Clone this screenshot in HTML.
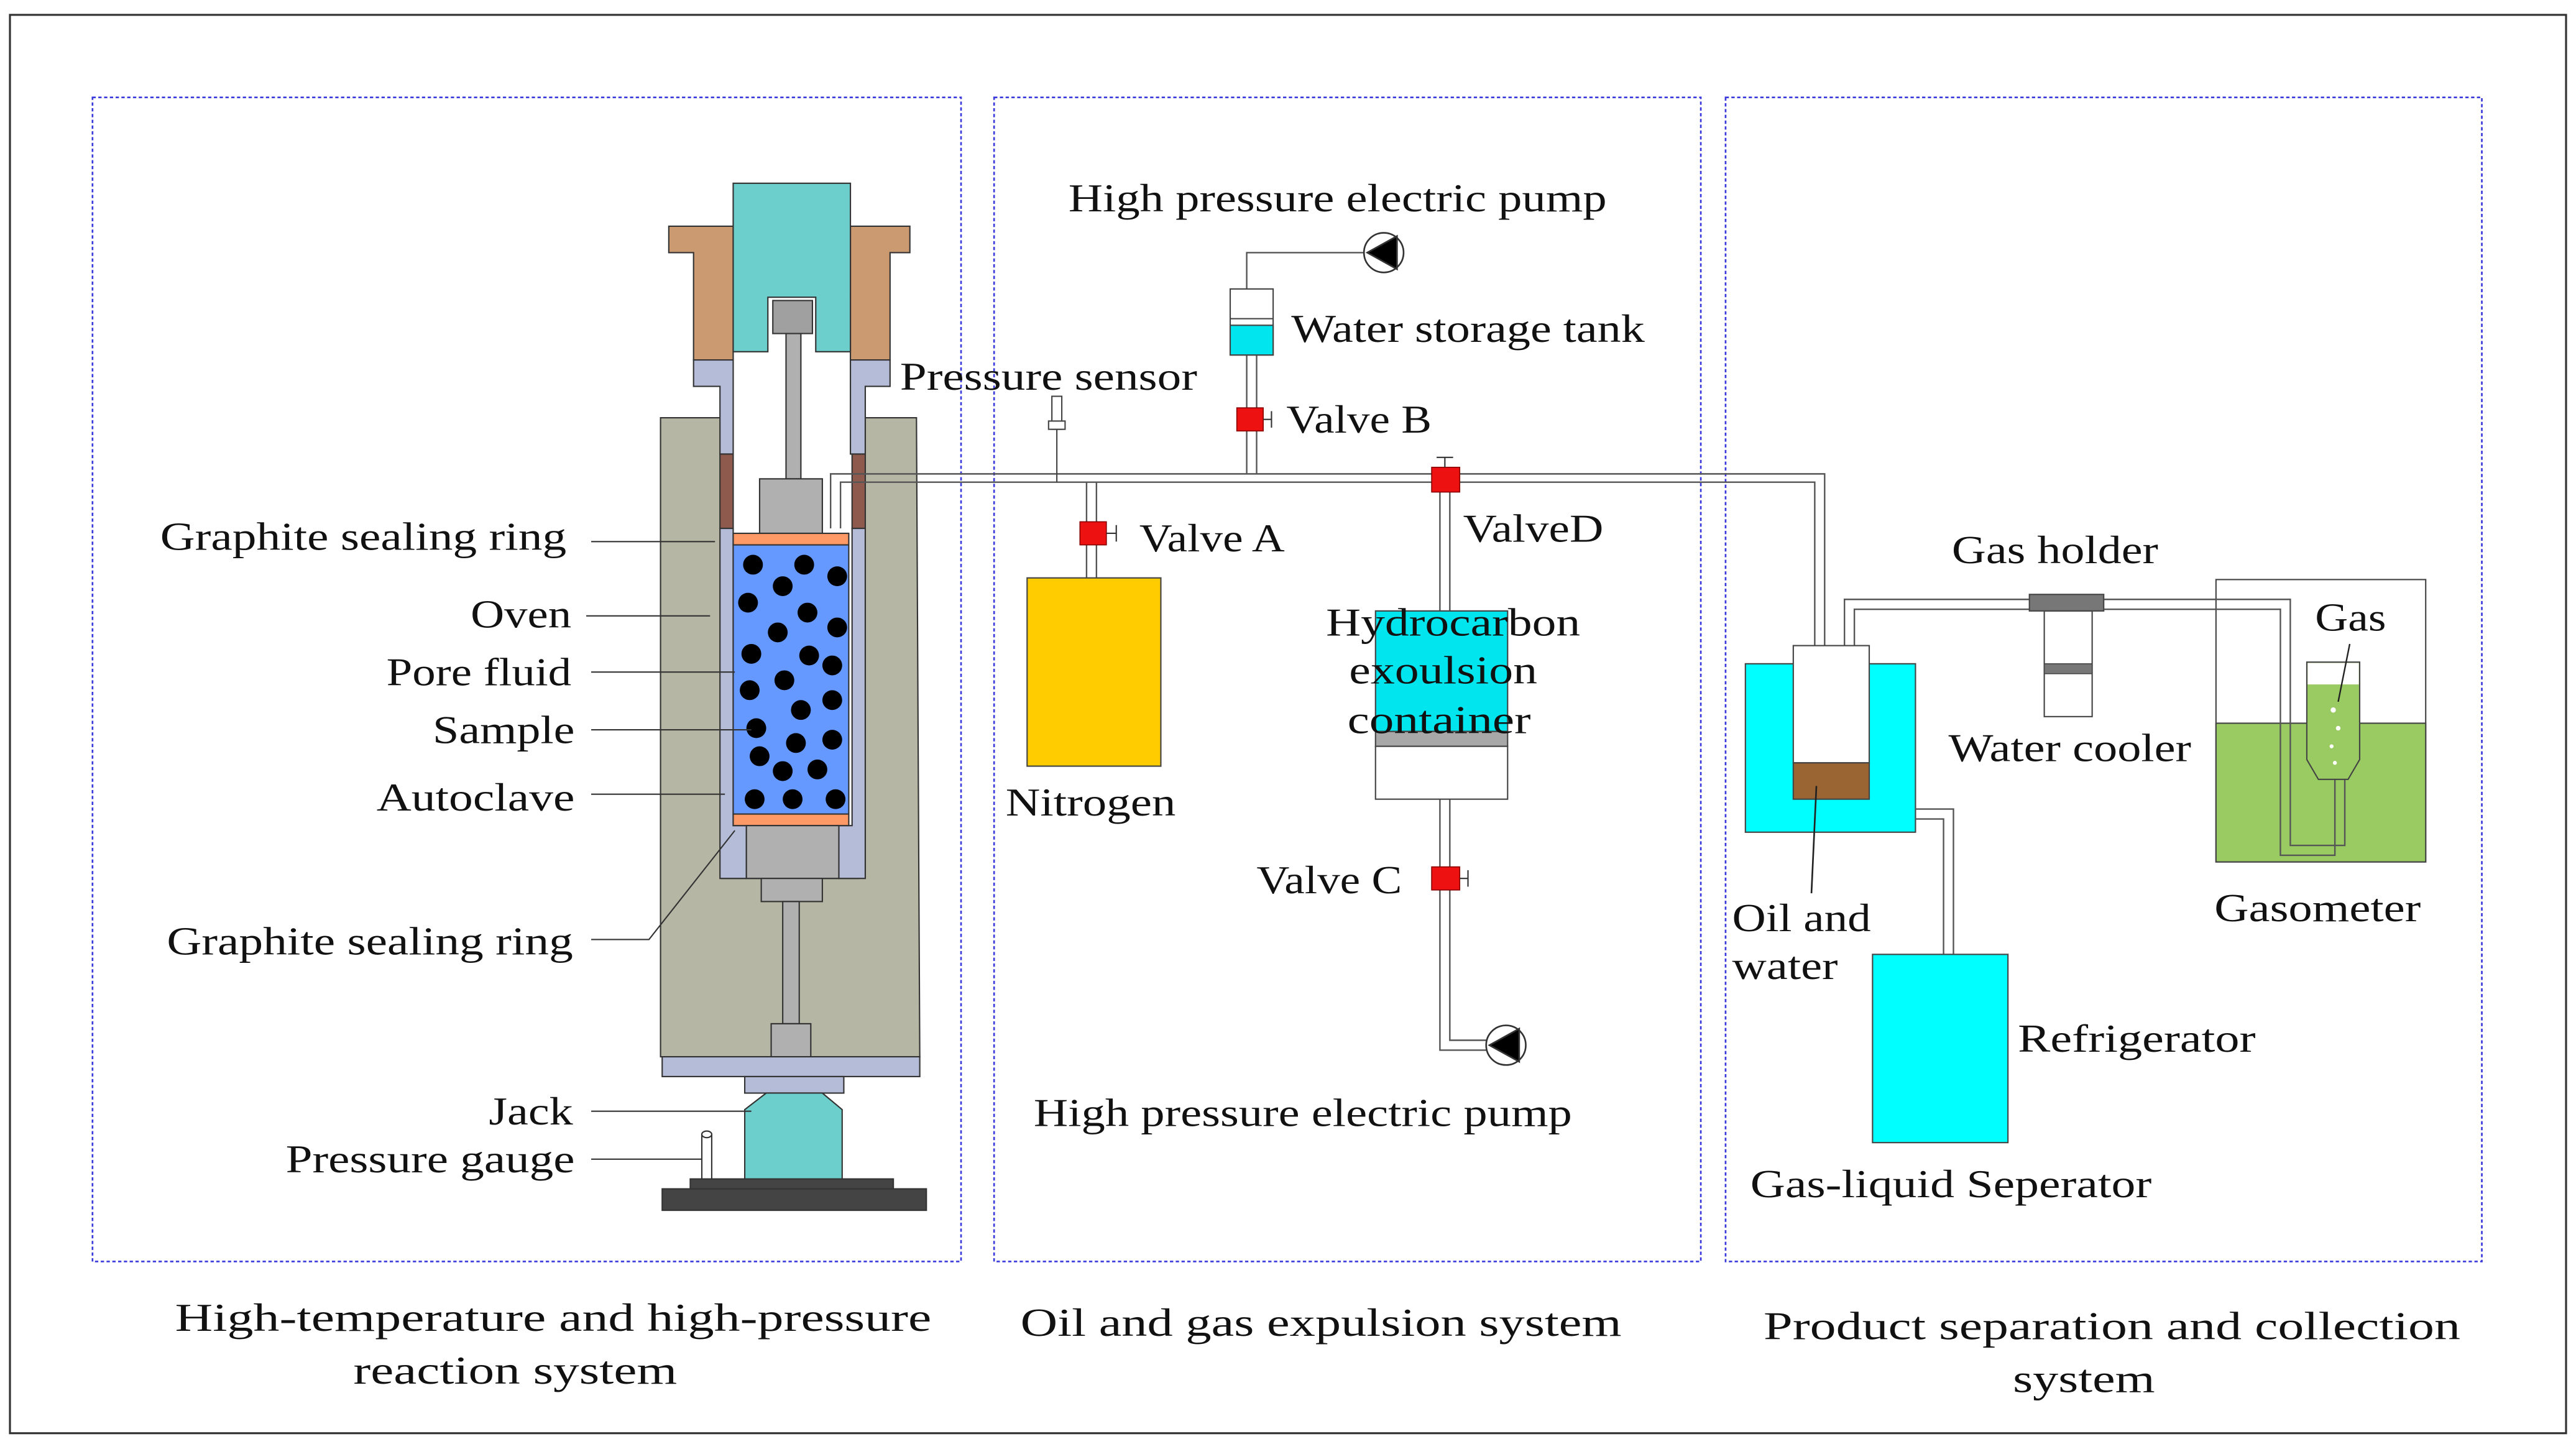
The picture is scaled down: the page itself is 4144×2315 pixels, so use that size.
<!DOCTYPE html>
<html><head><meta charset="utf-8"><style>html,body{margin:0;padding:0;background:#fff}svg{display:block}text{font-family:"Liberation Serif",serif;font-size:24px;fill:#111}</style></head><body>
<svg width="4144" height="2315" viewBox="0 0 1560 871.5" xmlns="http://www.w3.org/2000/svg">
<rect x="0" y="0" width="1560" height="871.5" fill="#fff"/>
<rect x="6" y="9" width="1548" height="859" fill="none" stroke="#333" stroke-width="1.2"/>
<g fill="none" stroke="#3a3adc" stroke-width="1" stroke-dasharray="2,1.5">
<rect x="56" y="59" width="526" height="705"/><rect x="602" y="59" width="428" height="705"/><rect x="1045" y="59" width="458" height="705"/></g>

<!-- LEFT APPARATUS -->
<g stroke="#333" stroke-width="0.8">
<path d="M400 253 H437 V532 H520 V253 H555 L557 640 H400 Z" fill="#b5b6a3"/>
<path d="M405 137 H444 V218 H420 V153 H405 Z" fill="#cc9a70"/>
<path d="M551 137 H515 V218 H539 V153 H551 Z" fill="#cc9a70"/>
<path d="M420 218 H444 V275 H436 V234 H420 Z" fill="#b4bcd8"/>
<path d="M539 218 H515 V275 H524 V234 H539 Z" fill="#b4bcd8"/>
<rect x="436" y="275" width="8" height="45" fill="#8e5a4e"/>
<rect x="516" y="275" width="8" height="45" fill="#8e5a4e"/>
<path d="M436 320 H444 V500 H452 V532 H436 Z" fill="#b4bcd8"/>
<path d="M524 320 H516 V500 H508 V532 H524 Z" fill="#b4bcd8"/>
<path d="M444 111 H515 V213 H494 V180 H465 V213 H444 Z" fill="#6ccfcc"/>
<rect x="468" y="182" width="24" height="20" fill="#a0a0a0"/>
<rect x="476" y="202" width="9" height="88" fill="#b0b0b0"/>
<rect x="460" y="290" width="38" height="33" fill="#b0b0b0"/>
<rect x="444" y="323" width="70" height="7" fill="#ff9966"/>
<rect x="444" y="330" width="70" height="163" fill="#6699ff"/>
<rect x="444" y="493" width="70" height="7" fill="#ff9966"/>
<rect x="452" y="500" width="56" height="32" fill="#b0b0b0"/>
<rect x="461" y="532" width="37" height="14" fill="#b0b0b0"/>
<rect x="474" y="546" width="10" height="74" fill="#b0b0b0"/>
<rect x="467" y="620" width="24" height="20" fill="#b0b0b0"/>
<rect x="401" y="640" width="156" height="12" fill="#b4bcd8"/>
<rect x="451" y="652" width="60" height="10" fill="#b4bcd8"/>
<path d="M451 672 L464 662 H498 L510 672 V716 H451 Z" fill="#6ccfcc"/>
<rect x="425" y="687" width="6" height="28" fill="#fff"/>
<ellipse cx="428" cy="687" rx="3" ry="2" fill="#fff"/>
<rect x="418" y="714" width="123" height="6" fill="#444"/>
<rect x="401" y="720" width="160" height="13" fill="#444"/>
</g>
<g fill="#000">
<ellipse cx="456" cy="342" rx="6" ry="6"/><ellipse cx="487" cy="342" rx="6" ry="6"/><ellipse cx="507" cy="349" rx="6" ry="6"/>
<ellipse cx="474" cy="355" rx="6" ry="6"/><ellipse cx="453" cy="365" rx="6" ry="6"/><ellipse cx="489" cy="371" rx="6" ry="6"/>
<ellipse cx="471" cy="383" rx="6" ry="6"/><ellipse cx="507" cy="380" rx="6" ry="6"/><ellipse cx="455" cy="396" rx="6" ry="6"/>
<ellipse cx="490" cy="397" rx="6" ry="6"/><ellipse cx="504" cy="403" rx="6" ry="6"/><ellipse cx="475" cy="412" rx="6" ry="6"/>
<ellipse cx="454" cy="418" rx="6" ry="6"/><ellipse cx="504" cy="424" rx="6" ry="6"/><ellipse cx="485" cy="430" rx="6" ry="6"/>
<ellipse cx="458" cy="441" rx="6" ry="6"/><ellipse cx="482" cy="450" rx="6" ry="6"/><ellipse cx="504" cy="448" rx="6" ry="6"/>
<ellipse cx="460" cy="458" rx="6" ry="6"/><ellipse cx="474" cy="467" rx="6" ry="6"/><ellipse cx="495" cy="466" rx="6" ry="6"/>
<ellipse cx="457" cy="484" rx="6" ry="6"/><ellipse cx="480" cy="484" rx="6" ry="6"/><ellipse cx="506" cy="484" rx="6" ry="6"/>
</g>
<g stroke="#333" stroke-width="0.8" fill="none">
<line x1="358" y1="328" x2="433" y2="328"/><line x1="355" y1="373" x2="430" y2="373"/>
<line x1="358" y1="407" x2="445" y2="407"/><line x1="358" y1="442" x2="455" y2="442"/>
<line x1="358" y1="481" x2="439" y2="481"/>
<polyline points="358,569 393,569 445,503"/>
<line x1="358" y1="673" x2="455" y2="673"/><line x1="358" y1="702" x2="425" y2="702"/>
</g>
<text x="97" y="333" textLength="246" lengthAdjust="spacingAndGlyphs">Graphite sealing ring</text>
<text x="285" y="380" textLength="61" lengthAdjust="spacingAndGlyphs">Oven</text>
<text x="234" y="415" textLength="112" lengthAdjust="spacingAndGlyphs">Pore fluid</text>
<text x="262" y="450" textLength="86" lengthAdjust="spacingAndGlyphs">Sample</text>
<text x="228" y="491" textLength="120" lengthAdjust="spacingAndGlyphs">Autoclave</text>
<text x="101" y="578" textLength="246" lengthAdjust="spacingAndGlyphs">Graphite sealing ring</text>
<text x="296" y="681" textLength="51" lengthAdjust="spacingAndGlyphs">Jack</text>
<text x="173" y="710" textLength="175" lengthAdjust="spacingAndGlyphs">Pressure gauge</text>

<!-- RIGHT boxes (under pipes) -->
<rect x="1057" y="402" width="103" height="102" fill="#00ffff" stroke="#444" stroke-width="0.8"/>
<rect x="1342" y="351" width="127" height="171" fill="#fff" stroke="#444" stroke-width="0.8"/>
<rect x="1342" y="438" width="127" height="84" fill="#9acb62" stroke="#444" stroke-width="0.8"/>

<!-- PIPES -->
<g stroke="#555" stroke-width="0.9" fill="none">
<polyline points="503,320 503,287 1105,287 1105,392"/>
<polyline points="509,320 509,292 1099,292 1099,392"/>
<line x1="658" y1="292" x2="658" y2="350"/><line x1="664" y1="292" x2="664" y2="350"/>
<polyline points="755,287 755,153 826,153"/><polyline points="761,287 761,215"/>
<line x1="872" y1="292" x2="872" y2="370"/><line x1="878" y1="292" x2="878" y2="370"/>
<polyline points="872,484 872,636 900,636"/><polyline points="878,484 878,630 900,630"/>
<polyline points="1117,392 1117,363 1387,363 1387,512 1420,512 1420,472"/>
<polyline points="1123,392 1123,369 1381,369 1381,518 1414,518 1414,472"/>
<polyline points="1160,490 1183,490 1183,578"/><polyline points="1160,496 1177,496 1177,578"/>
</g>
<!-- Pressure sensor -->
<g stroke="#444" stroke-width="0.8" fill="#fff"><rect x="637" y="240" width="6" height="20"/><rect x="635" y="255" width="10" height="5"/><line x1="640" y1="260" x2="640" y2="292"/></g>
<!-- Water tank -->
<rect x="745" y="175" width="26" height="40" fill="#fff" stroke="#444" stroke-width="0.8"/>
<rect x="745" y="197" width="26" height="18" fill="#00e5ee" stroke="#444" stroke-width="0.8"/>
<line x1="745" y1="193" x2="771" y2="193" stroke="#444" stroke-width="0.8"/>
<!-- pumps -->
<g stroke="#333" stroke-width="1"><circle cx="838" cy="153" r="12" fill="#fff"/><path d="M828 153 L846 143 V163 Z" fill="#000"/>
<circle cx="912" cy="633" r="12" fill="#fff"/><path d="M902 633 L920 623 V643 Z" fill="#000"/></g>
<!-- valves -->
<g fill="#ee1111" stroke="#800" stroke-width="0.6">
<rect x="749" y="247" width="16" height="14"/><rect x="654" y="316" width="16" height="14"/>
<rect x="867" y="283" width="17" height="15"/><rect x="867" y="525" width="17" height="14"/></g>
<g stroke="#333" stroke-width="0.8"><line x1="765" y1="254" x2="770" y2="254"/><line x1="770" y1="249" x2="770" y2="259"/>
<line x1="670" y1="323" x2="676" y2="323"/><line x1="676" y1="318" x2="676" y2="328"/>
<line x1="875" y1="283" x2="875" y2="277"/><line x1="870" y1="277" x2="880" y2="277"/>
<line x1="884" y1="532" x2="889" y2="532"/><line x1="889" y1="527" x2="889" y2="537"/></g>
<!-- nitrogen -->
<rect x="622" y="350" width="81" height="114" fill="#ffcc00" stroke="#444" stroke-width="0.8"/>
<!-- container -->
<rect x="833" y="370" width="80" height="73" fill="#00e5ee" stroke="#444" stroke-width="0.8"/>
<rect x="833" y="443" width="80" height="9" fill="#a8a8a8" stroke="#444" stroke-width="0.8"/>
<rect x="833" y="452" width="80" height="32" fill="#fff" stroke="#444" stroke-width="0.8"/>

<!-- RIGHT -->
<rect x="1086" y="391" width="46" height="71" fill="#fff" stroke="#444" stroke-width="0.8"/>
<rect x="1086" y="462" width="46" height="22" fill="#9a6433" stroke="#444" stroke-width="0.8"/>
<line x1="1100" y1="476" x2="1097" y2="541" stroke="#222" stroke-width="1"/>
<rect x="1238" y="370" width="29" height="64" fill="#fff" stroke="#444" stroke-width="0.8"/>
<rect x="1238" y="402" width="29" height="6" fill="#777" stroke="#444" stroke-width="0.6"/>
<rect x="1229" y="360" width="45" height="10" fill="#777" stroke="#444" stroke-width="0.8"/>
<path d="M1397 401 H1429 V460 L1422 472 H1404 L1397 460 Z" fill="#9acb62" stroke="#444" stroke-width="0.8"/>
<rect x="1397.5" y="401.5" width="31" height="13" fill="#fff"/>
<line x1="1423" y1="390" x2="1416" y2="425" stroke="#222" stroke-width="0.9"/>
<g fill="#fff"><circle cx="1413" cy="430" r="1.6"/><circle cx="1416" cy="441" r="1.4"/><circle cx="1412" cy="452" r="1.2"/><circle cx="1414" cy="462" r="1.2"/></g>
<rect x="1134" y="578" width="82" height="114" fill="#00ffff" stroke="#444" stroke-width="0.8"/>

<!-- TEXT -->
<text x="647" y="128" textLength="326" lengthAdjust="spacingAndGlyphs">High pressure electric pump</text>
<text x="782" y="207" textLength="214" lengthAdjust="spacingAndGlyphs">Water storage tank</text>
<text x="545" y="236" textLength="180" lengthAdjust="spacingAndGlyphs">Pressure sensor</text>
<text x="779" y="262" textLength="88" lengthAdjust="spacingAndGlyphs">Valve B</text>
<text x="690" y="334" textLength="88" lengthAdjust="spacingAndGlyphs">Valve A</text>
<text x="886" y="328" textLength="85" lengthAdjust="spacingAndGlyphs">ValveD</text>
<text x="803" y="385" textLength="154" lengthAdjust="spacingAndGlyphs">Hydrocarbon</text>
<text x="817" y="414" textLength="114" lengthAdjust="spacingAndGlyphs">exoulsion</text>
<text x="816" y="444" textLength="111" lengthAdjust="spacingAndGlyphs">container</text>
<text x="609" y="494" textLength="103" lengthAdjust="spacingAndGlyphs">Nitrogen</text>
<text x="761" y="541" textLength="88" lengthAdjust="spacingAndGlyphs">Valve C</text>
<text x="626" y="682" textLength="326" lengthAdjust="spacingAndGlyphs">High pressure electric pump</text>
<text x="1182" y="341" textLength="125" lengthAdjust="spacingAndGlyphs">Gas holder</text>
<text x="1402" y="382" textLength="43" lengthAdjust="spacingAndGlyphs">Gas</text>
<text x="1180" y="461" textLength="147" lengthAdjust="spacingAndGlyphs">Water cooler</text>
<text x="1049" y="564" textLength="84" lengthAdjust="spacingAndGlyphs">Oil and</text>
<text x="1049" y="593" textLength="64" lengthAdjust="spacingAndGlyphs">water</text>
<text x="1341" y="558" textLength="125" lengthAdjust="spacingAndGlyphs">Gasometer</text>
<text x="1222" y="637" textLength="144" lengthAdjust="spacingAndGlyphs">Refrigerator</text>
<text x="1060" y="725" textLength="243" lengthAdjust="spacingAndGlyphs">Gas-liquid Seperator</text>
<text x="106" y="806" textLength="458" lengthAdjust="spacingAndGlyphs">High-temperature and high-pressure</text>
<text x="214" y="838" textLength="196" lengthAdjust="spacingAndGlyphs">reaction system</text>
<text x="618" y="809" textLength="364" lengthAdjust="spacingAndGlyphs">Oil and gas expulsion system</text>
<text x="1068" y="811" textLength="422" lengthAdjust="spacingAndGlyphs">Product separation and collection</text>
<text x="1219" y="843" textLength="86" lengthAdjust="spacingAndGlyphs">system</text>
</svg>
</body></html>
